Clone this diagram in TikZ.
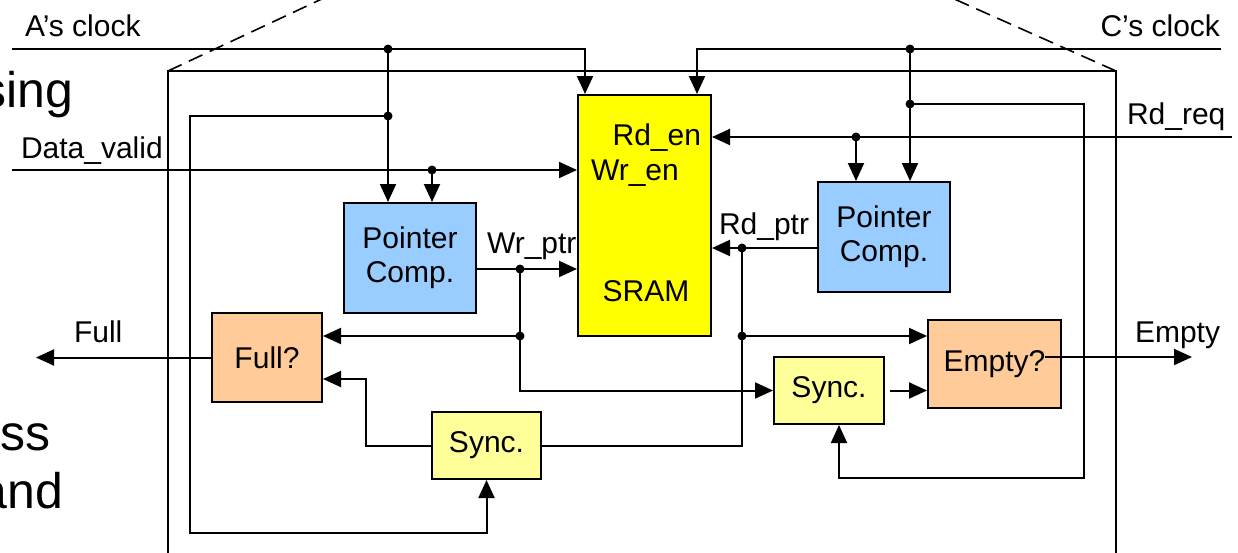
\documentclass[tikz,border=0pt]{standalone}
\usepackage{fontspec}
\setmainfont{Liberation Sans}
\usetikzlibrary{arrows.meta}
\definecolor{sramc}{HTML}{FFFF00}
\definecolor{ptrc}{HTML}{99CCFF}
\definecolor{chkc}{HTML}{FFCC99}
\definecolor{syncc}{HTML}{FFFF99}
\begin{document}
\begin{tikzpicture}[x=1pt, y=-1pt, line width=2pt,
  >={Triangle[length=18pt,width=16pt]},
  blk/.style={draw, line width=2pt, inner sep=0pt, align=center, font=\fontsize{30}{34}\selectfont},
  ptrbox/.style={blk, fill=ptrc, minimum width=132pt, minimum height=110pt},
  syncbox/.style={blk, fill=syncc, minimum width=110pt, minimum height=67pt},
  chkbox/.style={blk, fill=chkc, minimum height=88pt},
  lbl/.style={inner sep=0pt, font=\fontsize{30}{34}\selectfont},
  big/.style={inner sep=0pt, anchor=base east, font=\fontsize{50}{58}\selectfont},
  frame/.style={line width=1.6pt},
]
\useasboundingbox (0,0) rectangle (1238,552);

\node[big] (t1) at (74,107) {sing};
\node[big] (t2) at (51,450) {ss};
\node[big] (t3) at (64,508) {and};

\draw[frame] (168,560) -- (168,71) -- (1116,71) -- (1116,560);
\draw[frame, dash pattern=on 15pt off 8pt] (168,71) -- (341,-10);
\draw[frame, dash pattern=on 15pt off 8pt] (1116,71) -- (934,-10);

\node[blk, fill=sramc, minimum width=133pt, minimum height=241pt] (sram) at (644.5,215.5) {};
\node[lbl, anchor=base east] (rden) at (702,145) {Rd\_en};
\node[lbl, anchor=base west] (wren) at (590,180) {Wr\_en};
\node[lbl, anchor=base] (sramlbl) at (646,301) {SRAM};

\node[ptrbox] (ptrA) at (410,258) {Pointer\\Comp.};
\node[ptrbox] (ptrC) at (884,237) {Pointer\\Comp.};
\node[chkbox, minimum width=110pt, minimum height=89pt] (full) at (267,357.5) {Full?};
\node[chkbox, minimum width=133pt] (empty) at (994.5,364) {Empty?};
\node[syncbox, minimum width=109pt] (syncA) at (486.5,445.5) {Sync.};
\node[syncbox] (syncC) at (829,390.5) {Sync.};

\node[lbl, anchor=base west] (aclk) at (24,36) {A’s clock};
\node[lbl, anchor=base east] (cclk) at (1221,36) {C’s clock};
\node[lbl, anchor=base west] (dvlbl) at (20,158) {Data\_valid};
\node[lbl, anchor=base west] (rqlbl) at (1126,124) {Rd\_req};
\node[lbl, anchor=base west] (wplbl) at (486,253) {Wr\_ptr};
\node[lbl, anchor=base west] (rplbl) at (718,234) {Rd\_ptr};
\node[lbl, anchor=base west] (fulllbl) at (73,342) {Full};
\node[lbl, anchor=base west] (emptylbl) at (1134,342) {Empty};

\coordinate (aclkin) at (12,49);
\coordinate (jA1) at (388,49);
\coordinate (jA2) at (388,116);
\coordinate (bA) at (190,533);
\coordinate (dvin) at (12,170);
\coordinate (jD) at (432,170);
\coordinate (jW1) at (520,269);
\coordinate (jW2) at (520,336);
\coordinate (fA) at (366,379);
\coordinate (fullout) at (36,357.5);
\coordinate (cclkin) at (1221,49);
\coordinate (jC1) at (910,49);
\coordinate (jC2) at (910,104);
\coordinate (cC) at (1084,478);
\coordinate (rqin) at (1232,137);
\coordinate (jQ) at (856,137);
\coordinate (jR1) at (742,248);
\coordinate (jR2) at (742,336);
\coordinate (emptyq) at (1045,357);
\coordinate (emptyout) at (1192,357);

\draw[->] (aclkin) -| ([xshift=8pt]sram.north west);
\draw[->] (jA1) -- (jA1 |- ptrA.north);
\draw[->] (jA2) -| (bA) -| (syncA.south);
\draw[->] (dvin) -- (dvin -| sram.west);
\draw[->] (jD) -- (jD |- ptrA.north);
\draw[->] (ptrA.east |- jW1) -- (jW1 -| sram.west);
\draw[->] (jW1) |- (syncC.west);
\draw[->] (jW2) -- (jW2 -| full.east);
\draw[->] (full.west) -- (fullout);
\draw[->] (syncA.west) -| (fA) -- (fA -| full.east);
\draw (syncA.east) -| (jR1);
\draw[->] (ptrC.west |- jR1) -- (jR1 -| sram.east);
\draw[->] (jR2) -- (jR2 -| empty.west);
\draw[->] (cclkin) -| ([xshift=-15pt]sram.north east);
\draw[->] (jC1) -- (jC1 |- ptrC.north);
\draw[->] (jC2) -| (cC) -| ([xshift=10pt]syncC.south);
\draw[->] (rqin) -- (rqin -| sram.east);
\draw[->] (jQ) -- (jQ |- ptrC.north);
\draw[->] ([xshift=5pt]syncC.east) -- (syncC.east -| empty.west);
\draw[->] (emptyq) -- (emptyout);
\foreach \j in {jA1,jA2,jD,jW1,jW2,jC1,jC2,jQ,jR1,jR2}
  \fill (\j) circle (4.5pt);
\end{tikzpicture}
\end{document}
